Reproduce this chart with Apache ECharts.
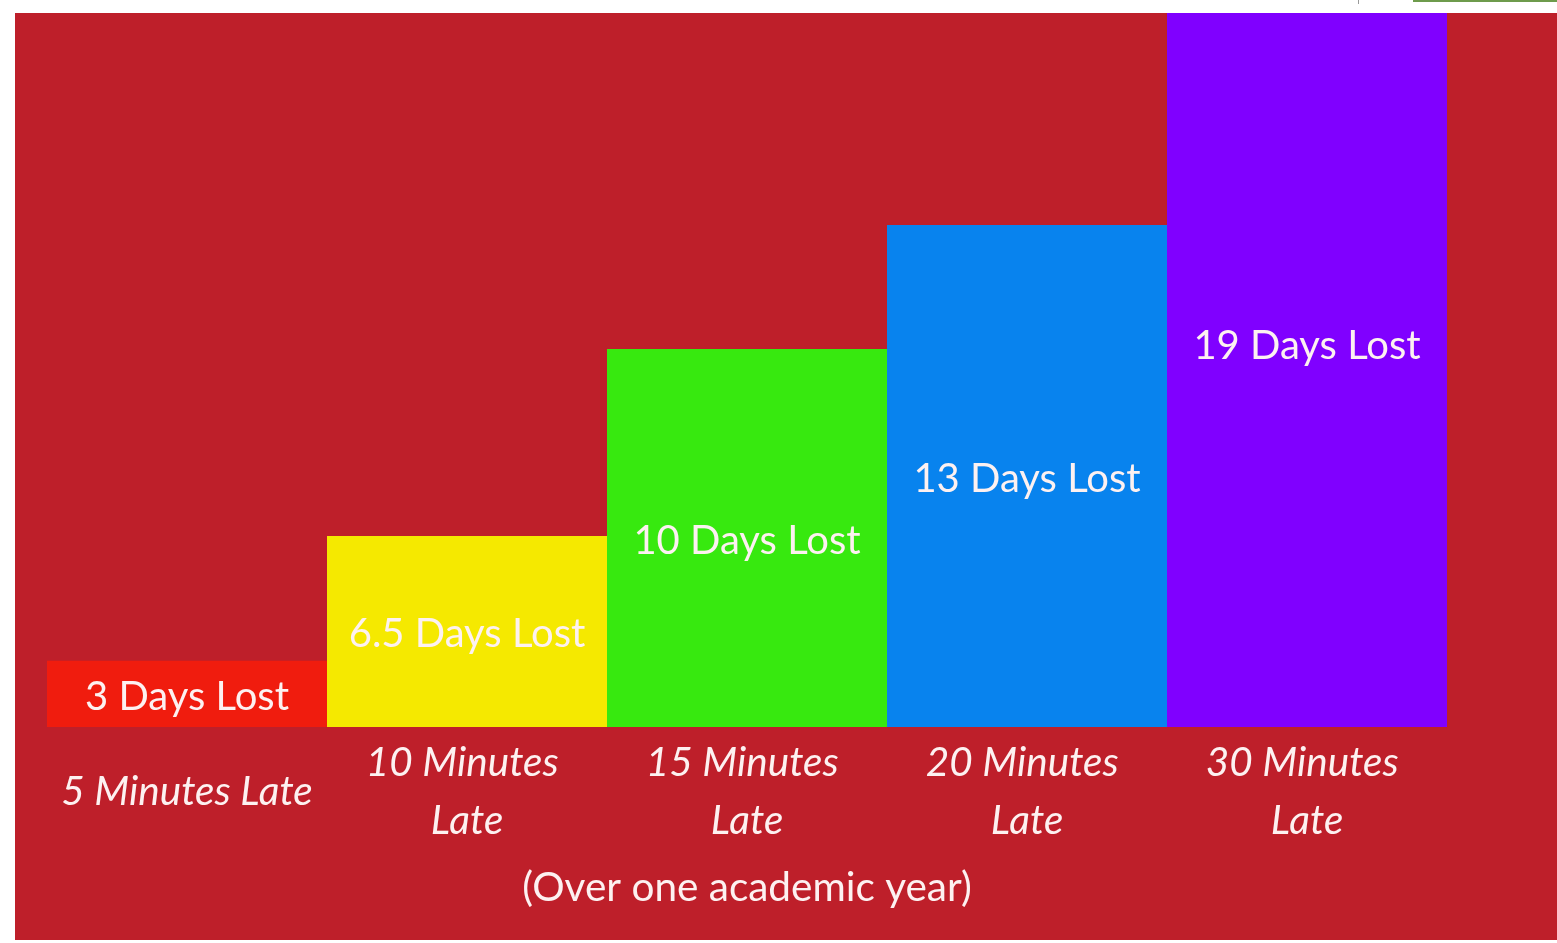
<!DOCTYPE html>
<html>
<head>
<meta charset="utf-8">
<script src="https://cdn.jsdelivr.net/npm/echarts@6/dist/echarts.min.js"></script>
<style>
html, body { margin: 0; padding: 0; background: #ffffff; }
#chart { width: 1557px; height: 943px; }
</style>
</head>
<body>
<div id="chart"></div>
<script>
// Categories (x axis)
const categories = ["5 Minutes Late", "10 Minutes Late", "15 Minutes Late", "20 Minutes Late", "30 Minutes Late"];
// Days lost shown in each bar's label
const daysLost = [3, 6.5, 10, 13, 19];
// Bar heights as drawn in the picture (in the same axis units, 19 = top bar)
const barHeights = [1.76, 5.08, 10.06, 13.36, 19];
// Bar colours
const barColors = ["#f01c0e", "#f5e900", "#37e90f", "#0883ee", "#8000ff"];
const xAxisTitle = "(Over one academic year)";

const textColor = "#fdf1f1";

const seriesData = barHeights.map(function (h, i) {
  return {
    value: h,
    itemStyle: { color: barColors[i] },
    label: { offset: i === barHeights.length - 1 ? [0, -24] : [0, 3] }
  };
});

const chart = echarts.init(document.getElementById('chart'), null, { renderer: 'canvas' });
chart.setOption({
  backgroundColor: '#ffffff',
  animation: false,
  graphic: [
    { type: 'rect', z: -10, silent: true, shape: { x: 15, y: 13, width: 1542, height: 927 }, style: { fill: '#be1f2a' } },
    { type: 'rect', z: -10, silent: true, shape: { x: 1413, y: 0, width: 144, height: 2 }, style: { fill: '#6e9b4c' } },
    { type: 'rect', z: -10, silent: true, shape: { x: 1358, y: 0, width: 1, height: 4 }, style: { fill: '#9a9a9a' } }
  ],
  grid: { left: 47, right: 110, top: 13, bottom: 216, containLabel: false },
  xAxis: {
    type: 'category',
    data: categories,
    axisLine: { show: false },
    axisTick: { show: false },
    axisLabel: {
      color: textColor,
      fontFamily: 'Lato',
      fontStyle: 'italic',
      fontSize: 40.5,
      lineHeight: 58,
      margin: 65,
      verticalAlign: 'middle',
      width: 262,
      overflow: 'break',
      interval: 0
    },
    name: xAxisTitle,
    nameLocation: 'middle',
    nameGap: 161,
    nameTextStyle: {
      color: textColor,
      fontFamily: 'Lato',
      fontSize: 40.5,
      verticalAlign: 'middle'
    }
  },
  yAxis: { type: 'value', min: 0, max: 19, show: false, splitLine: { show: false } },
  series: [{
    type: 'bar',
    data: seriesData,
    barWidth: '100%',
    barCategoryGap: 0,
    label: {
      show: true,
      position: 'inside',
      color: textColor,
      fontFamily: 'Lato',
      fontSize: 40,
      formatter: function (p) { return daysLost[p.dataIndex] + ' Days Lost'; }
    }
  }]
});
</script>
</body>
</html>
